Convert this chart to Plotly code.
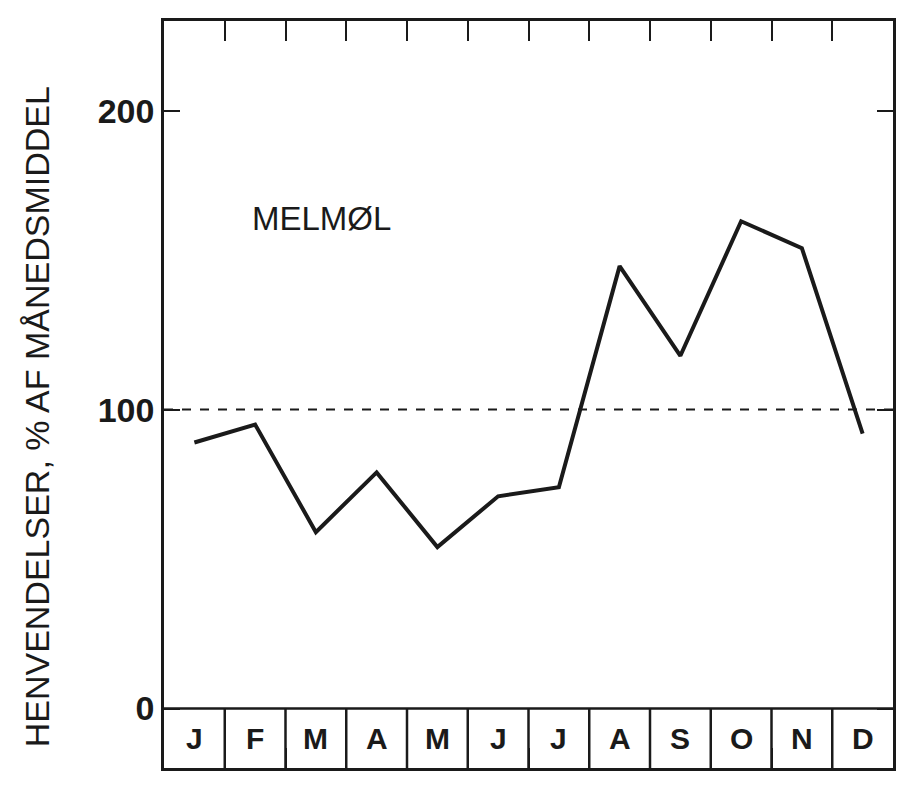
import plotly.graph_objects as go

months = ["J", "F", "M", "A", "M", "J", "J", "A", "S", "O", "N", "D"]
values = [89, 95, 59, 79, 54, 71, 74, 148, 118, 163, 154, 92]
y_ticks = [0, 100, 200]

x_mid = [i + 0.5 for i in range(len(months))]
FONT = "Liberation Sans, Arial, sans-serif"

fig = go.Figure()
fig.add_trace(go.Scatter(x=x_mid, y=values, mode="lines",
                         line=dict(color="#1a1a1a", width=4), showlegend=False))

# reference line at 100 %
fig.add_hline(y=100, line=dict(color="#1a1a1a", width=2, dash="dash"))
# baseline and month boxes
fig.add_hline(y=0, line=dict(color="#1a1a1a", width=2.5))
for i in range(1, len(months)):
    fig.add_shape(type="line", x0=i, x1=i, y0=-19.9, y1=0,
                  line=dict(color="#1a1a1a", width=2.5))
for xm, m in zip(x_mid, months):
    fig.add_annotation(x=xm, y=-10, text="<b>%s</b>" % m, showarrow=False,
                       font=dict(family=FONT, size=30, color="#1a1a1a"))

fig.add_annotation(x=2.6, y=164, text="MELMØL", showarrow=False, xanchor="center",
                   font=dict(family=FONT, size=33, color="#1a1a1a"))

fig.update_xaxes(range=[0, 12], tickvals=list(range(13)), showticklabels=False,
                 ticks="inside", ticklen=20, tickwidth=2, tickcolor="#1a1a1a",
                 showline=True, linecolor="#1a1a1a", linewidth=2.5, mirror="ticks",
                 showgrid=False, zeroline=False)
fig.update_yaxes(range=[-19.9, 230], tickvals=y_ticks,
                 ticktext=["<b>%d</b>" % v for v in y_ticks],
                 ticks="inside", ticklen=16, tickwidth=2, tickcolor="#1a1a1a",
                 showline=True, linecolor="#1a1a1a", linewidth=2.5, mirror="ticks",
                 showgrid=False, zeroline=False,
                 tickfont=dict(family=FONT, size=34, color="#1a1a1a"))

fig.add_annotation(xref="paper", yref="paper", x=-0.175, y=0.47, textangle=-90,
                   text="HENVENDELSER, % AF MÅNEDSMIDDEL", showarrow=False,
                   xanchor="center", yanchor="middle",
                   font=dict(family=FONT, size=34, color="#1a1a1a"))

fig.update_layout(width=905, height=800, plot_bgcolor="white", paper_bgcolor="white",
                  margin=dict(l=156, r=20, t=10, b=40))

fig.write_html("out.html")
